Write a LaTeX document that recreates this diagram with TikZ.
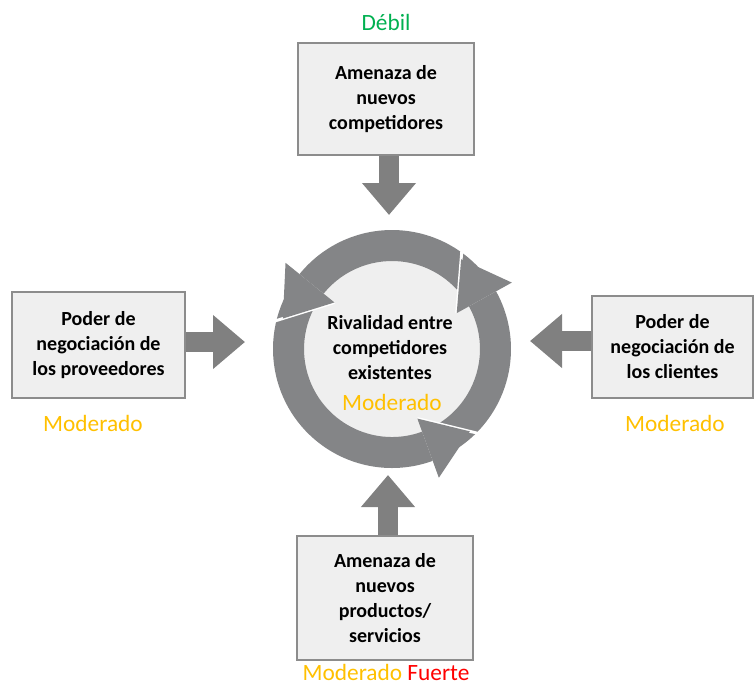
\documentclass[tikz,border=0pt]{standalone}
\usepackage{fontspec}
\setmainfont{Carlito}
\usetikzlibrary{arrows.meta,calc}

\definecolor{boxfill}{RGB}{239,239,239}
\definecolor{boxline}{RGB}{140,140,140}
\definecolor{arrowgray}{RGB}{128,128,128}
\definecolor{ringgray}{RGB}{132,133,135}
\definecolor{verde}{RGB}{0,176,80}
\definecolor{ambar}{RGB}{255,192,0}
\definecolor{rojo}{RGB}{255,0,0}

\tikzset{every picture/.style={line width=0.75pt}}
\tikzset{
  forcebox/.style={draw=boxline, fill=boxfill, line width=1.8pt, align=center,
    inner sep=0pt, font=\fontsize{15}{18.75}\selectfont\bfseries},
  level/.style={font=\fontsize{17.5}{21}\selectfont},
  blockarrow/.style={draw=arrowgray, line width=15.5pt,
    -{Triangle[length=24pt,width=39pt,fill=arrowgray]}},
}

% one arrow of the cycle: body from tail to back, head straight along the tangent
\newcommand{\ringbody}[2]{%
  \fill[ringgray] (#1:119) arc[start angle=#1, end angle=#2, radius=119]
    -- (#2:88) arc[start angle=#2, end angle=#1, radius=88] -- cycle;}
\newcommand{\ringhead}[1]{%
  \coordinate (headtip) at ($(#1:104)+({#1+90}:45)$);
  \draw[white, line width=2.2pt] (#1:74) -- ($(#1:74)!1.25!(headtip)$);
  \fill[ringgray] (#1:137) -- (headtip) -- (#1:74) -- cycle;}

\begin{document}
\begin{tikzpicture}[x=0.75pt,y=0.75pt,yscale=-1,xscale=1]
\useasboundingbox (0,0) rectangle (754,687);

%Shape: Boxes
\node (entrantes) at (386,99) [forcebox, minimum width=132pt, minimum height=84pt] {Amenaza de\\nuevos\\competidores};
\node (proveedores) at (98.5,345) [forcebox, minimum width=130pt, minimum height=79.5pt] {Poder de\\negociación de\\los proveedores};
\node (clientes) at (672.5,347) [forcebox, minimum width=121pt, minimum height=76.5pt] {Poder de\\negociación de\\los clientes};
\node (sustitutos) at (385,598) [forcebox, minimum width=132pt, minimum height=93pt] {Amenaza de\\nuevos\\productos/\\servicios};

%Shape: Rivalry circle
\begin{scope}[shift={(392,349)}, yscale=-1]
\fill[boxfill] (0,0) circle[radius=89];
\ringbody{30}{141}
\ringbody{142}{290}
\ringbody{291}{389}
\ringhead{141}
\ringhead{290}
\ringhead{389}
\end{scope}

\node (rivalidad) at (390,348) [align=center, font=\fontsize{15}{18.75}\selectfont\bfseries] {Rivalidad entre\\competidores\\existentes};

%Straight Lines: block arrows
\coordinate (tipT) at (389,215);
\coordinate (tipL) at (245,342);
\coordinate (tipR) at (530,341);
\coordinate (tipB) at (388,475);
\draw [blockarrow] (entrantes.south -| tipT) -- (tipT);
\draw [blockarrow] (proveedores.east |- tipL) -- (tipL);
\draw [blockarrow] (clientes.west |- tipR) -- (tipR);
\draw [blockarrow] (sustitutos.north -| tipB) -- (tipB);

% Text Node
\node (nivelT) at (386,22) [level, text=verde] {Débil};
% Text Node
\node (nivelL) at (93,423) [level, text=ambar] {Moderado};
% Text Node
\node (nivelR) at (675,423) [level, text=ambar] {Moderado};
% Text Node
\node (nivelC) at (392,402) [level, text=ambar] {Moderado};
% Text Node
\node (nivelB) at (386,672) [level] {\textcolor{ambar}{Moderado} \textcolor{rojo}{Fuerte}};

\end{tikzpicture}
\end{document}
